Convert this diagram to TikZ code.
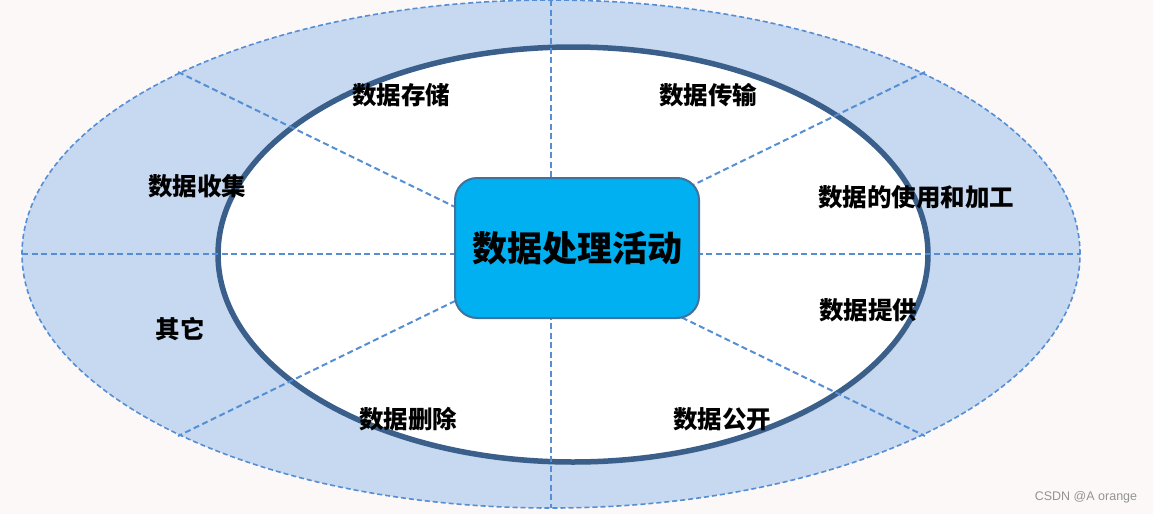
\documentclass[tikz,border=0pt]{standalone}
\usepackage{fontspec}
\newfontfamily\cjk{Noto Sans CJK SC}
\newfontfamily\wm{Liberation Sans}
\definecolor{bgc}{HTML}{FDF8F8}
\definecolor{ringfill}{HTML}{C6D9F0}
\definecolor{dashc}{HTML}{558ED5}
\definecolor{innerc}{HTML}{3A5F8B}
\definecolor{boxfill}{HTML}{00B0F0}
\definecolor{boxline}{HTML}{41719C}
\tikzset{
  sep/.style={draw=dashc, line width=2pt, dash pattern=on 6pt off 3.5pt},
  lbl/.style={font=\cjk\bfseries\fontsize{24.5}{27}\selectfont, text=black, inner sep=0pt},
  core/.style={draw=boxline, line width=2pt, fill=boxfill, rounded corners=22pt,
    minimum width=244pt, minimum height=140pt, inner sep=0pt,
    font=\cjk\bfseries\fontsize{35}{38}\selectfont}
}
\begin{document}
\begin{tikzpicture}[x=1pt,y=-1pt]
\useasboundingbox (0,0) rectangle (1153,514);
\fill[bgc] (0,0) rectangle (1153,514);
% outer ring
\coordinate (oc) at (551,254);
\fill[ringfill] (oc) ellipse [x radius=529pt, y radius=254pt];
\draw[draw=dashc, line width=1.6pt, dash pattern=on 5pt off 3pt] (oc) ellipse [x radius=529pt, y radius=254pt];
% inner ellipse
\coordinate (ic) at (573,254.5);
\fill[gray!40, opacity=0.5] (575,257.5) ellipse [x radius=355pt, y radius=207.5pt];
\filldraw[fill=white, draw=innerc, line width=5.5pt] (ic) ellipse [x radius=355pt, y radius=207.5pt];
% separators
\coordinate (vt) at (551,0);
\coordinate (vb) at (551,508);
\coordinate (hl) at (22,254);
\coordinate (hr) at (1080,254);
\coordinate (dtl) at (178,72);
\coordinate (dbr) at (925,436);
\coordinate (dtr) at (925,72);
\coordinate (dbl) at (178,436);
\draw[sep] (vt) -- (vb);
\draw[sep] (hl) -- (hr);
\draw[sep] (dtl) -- (dbr);
\draw[sep] (dtr) -- (dbl);
% centre box
\node[core] (box) at (577,248) {数据处理活动};
% labels
\node[lbl] (storage) at (401,95) {数据存储};
\node[lbl] (transfer) at (708,95) {数据传输};
\node[lbl] (use) at (916,197) {数据的使用和加工};
\node[lbl] (collect) at (197,186) {数据收集};
\node[lbl] (other) at (180,329) {其它};
\node[lbl] (provide) at (868,310) {数据提供};
\node[lbl] (delete) at (408,419) {数据删除};
\node[lbl] (publish) at (722,419) {数据公开};
\node[font=\wm\fontsize{12.5}{14}\selectfont, text=gray!85, inner sep=0pt] (mark) at (1086,497) {CSDN @A orange};
\end{tikzpicture}
\end{document}
